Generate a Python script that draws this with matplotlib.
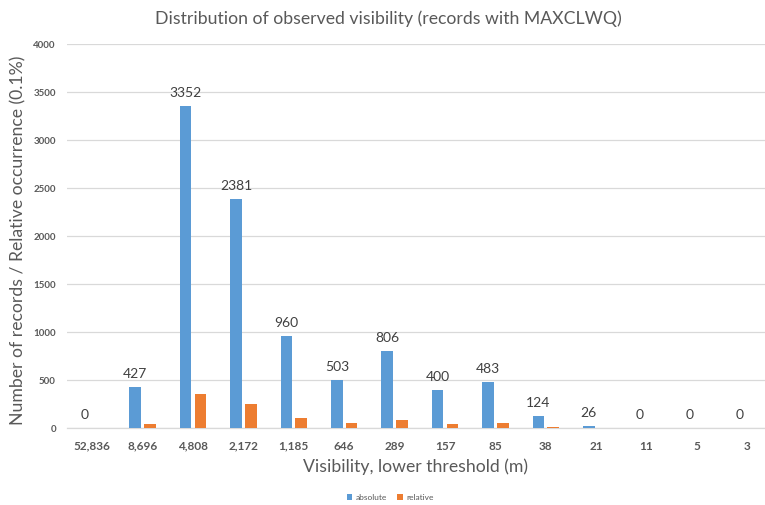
import matplotlib
matplotlib.use("Agg")
import matplotlib.pyplot as plt
import numpy as np

plt.rcParams['font.family'] = ['Lato', 'DejaVu Sans']

thresholds = ["52,836", "8,696", "4,808", "2,172", "1,185", "646", "289",
              "157", "85", "38", "21", "11", "5", "3"]
absolute = [0, 427, 3352, 2381, 960, 503, 806, 400, 483, 124, 26, 0, 0, 0]
relative = [0, 45, 354, 252, 101, 53, 85, 42, 51, 13, 3, 0, 0, 0]
y_ticks = [0, 500, 1000, 1500, 2000, 2500, 3000, 3500, 4000]

blue = "#5B9BD5"
orange = "#ED7D31"
text_gray = "#595959"
grid_gray = "#D9D9D9"

fig = plt.figure(figsize=(7.65, 5.05), dpi=100)
ax = fig.add_axes([67 / 765, 77 / 505, 705.6 / 765, 384 / 505])

x = np.arange(len(thresholds))
w = 0.232
off = 0.146
ax.bar(x - off, absolute, w, color=blue, label="absolute", zorder=3)
ax.bar(x + off, relative, w, color=orange, label="relative", zorder=3)

for xi, v in zip(x - off, absolute):
    ax.annotate(f"{v}", (xi, v), xytext=(0, 5), textcoords="offset points",
                ha="center", va="bottom", fontsize=10, color="#404040")

ax.set_xlim(-0.5, len(thresholds) - 0.5)
ax.set_ylim(0, 4000)
ax.set_yticks(y_ticks)
ax.set_yticklabels([str(t) for t in y_ticks], fontsize=7, fontweight="bold", color=text_gray)
ax.set_xticks(x)
ax.set_xticklabels(thresholds, fontsize=8.5, fontweight="bold", color=text_gray)
ax.tick_params(axis="both", length=0)
ax.tick_params(axis="y", pad=8)
ax.tick_params(axis="x", pad=9)
ax.yaxis.grid(True, color=grid_gray, linewidth=0.9, zorder=0)
for s in ["top", "right", "left"]:
    ax.spines[s].set_visible(False)
ax.spines["bottom"].set_color(grid_gray)
ax.spines["bottom"].set_linewidth(0.9)

fig.text(18 / 765, 1 - 240 / 505, "Number of records / Relative occurrence (0.1%)",
         fontsize=12.7, color=text_gray, ha="center", va="center", rotation=90)
fig.text(416 / 765, 1 - 467 / 505, "Visibility, lower threshold (m)", fontsize=12.7,
         color=text_gray, ha="center", va="center")
fig.text(388 / 765, 1 - 19 / 505, "Distribution of observed visibility (records with MAXCLWQ)",
         fontsize=12.7, color=text_gray, ha="center", va="center")

fig.legend(loc="center", bbox_to_anchor=(390 / 765, 1 - 497 / 505), ncol=2,
           frameon=False, fontsize=6, handlelength=0.7, handleheight=0.7,
           columnspacing=1.2, handletextpad=0.4, labelcolor=text_gray)

fig.savefig("out.png", dpi=100)
